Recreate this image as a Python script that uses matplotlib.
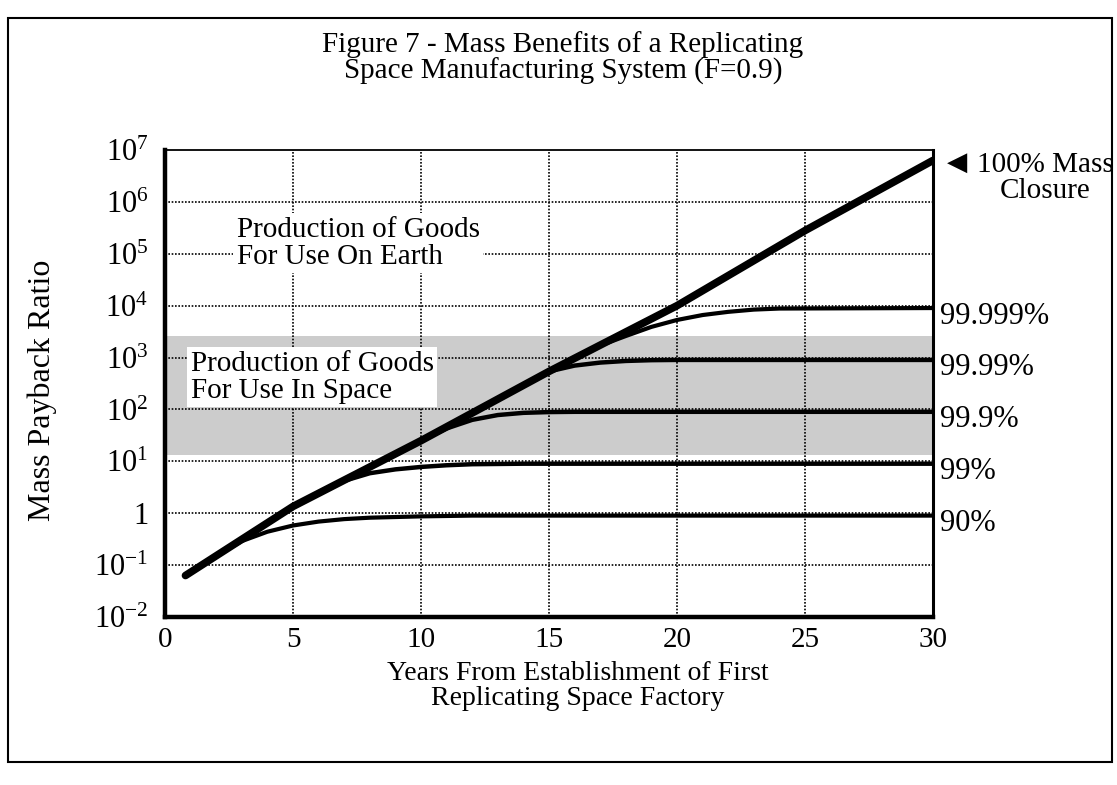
import matplotlib
matplotlib.use("Agg")
import matplotlib.pyplot as plt
from matplotlib.patches import Rectangle

# values
years_100 = [0.8, 5, 10, 15, 20, 25, 30]
closure_100 = [0.063, 1.35, 25, 540, 1.0e4, 2.8e5, 6.3e6]

years_90 = [0.8, 2, 3, 4, 5, 6, 7, 8, 10, 12, 30]
closure_90 = [0.063, 0.15, 0.29, 0.44, 0.58, 0.69, 0.77, 0.82, 0.87, 0.9, 0.9]

years_99 = [0.8, 5, 6, 7, 8, 9, 10, 11, 12, 14, 30]
closure_99 = [0.063, 1.35, 2.4, 4.2, 5.9, 7.0, 7.8, 8.4, 8.8, 9.0, 9.0]

years_999 = [0.8, 5, 10, 11, 12, 13, 14, 15, 16, 30]
closure_999 = [0.063, 1.35, 25, 43, 63, 78, 86, 89, 90, 90]

years_9999 = [0.8, 5, 10, 15, 16, 17, 18, 19, 20, 30]
closure_9999 = [0.063, 1.35, 25, 540, 700, 800, 860, 890, 900, 900]

years_99999 = [0.8, 5, 10, 15, 17, 18, 19, 20, 21, 22, 23, 24, 30]
closure_99999 = [0.063, 1.35, 25, 540, 1700, 2600, 3900, 5300, 6600, 7600, 8400, 8800, 9000]

plateau_labels = ["99.999%", "99.99%", "99.9%", "99%", "90%"]
plateau_values = [9000, 900, 90, 9.0, 0.9]

space_band = (13, 2600)

x_ticks = [0, 5, 10, 15, 20, 25, 30]
y_ticks = [1e-2, 1e-1, 1, 1e1, 1e2, 1e3, 1e4, 1e5, 1e6, 1e7]
y_tick_labels = [r"$10^{-2}$", r"$10^{-1}$", "1", r"$10^{1}$", r"$10^{2}$",
                 r"$10^{3}$", r"$10^{4}$", r"$10^{5}$", r"$10^{6}$", r"$10^{7}$"]

plt.rcParams["font.family"] = ["Liberation Serif", "DejaVu Sans"]
plt.rcParams["mathtext.fontset"] = "custom"
plt.rcParams["mathtext.rm"] = "Liberation Serif"
plt.rcParams["mathtext.it"] = "Liberation Serif"

W, H = 1117, 785
fig = plt.figure(figsize=(W / 100, H / 100), dpi=100)
ax = fig.add_axes([165 / W, 1 - 617 / H, (933 - 165) / W, (617 - 150) / H])

ax.set_yscale("log")
ax.set_xlim(0, 30)
ax.set_ylim(1e-2, 1e7)

# shaded band for goods used in space
ax.axhspan(space_band[0], space_band[1], color="#cccccc", zorder=0, lw=0)

# grid
for x in x_ticks[1:-1]:
    ax.axvline(x, color="black", ls=(0, (1, 1)), lw=1.2, zorder=1)
for y in y_ticks[1:-1]:
    ax.axhline(y, color="black", ls=(0, (1, 1)), lw=1.2, zorder=1)

curve_kw = dict(color="black", solid_capstyle="round", solid_joinstyle="round", zorder=3)
ax.plot(years_90, closure_90, lw=3.0, **curve_kw)
ax.plot(years_99, closure_99, lw=3.2, **curve_kw)
ax.plot(years_999, closure_999, lw=3.2, **curve_kw)
ax.plot(years_9999, closure_9999, lw=3.2, **curve_kw)
ax.plot(years_99999, closure_99999, lw=3.0, **curve_kw)
ax.plot(years_100, closure_100, lw=5.5, **curve_kw)

# spines
for side in ["left", "bottom"]:
    ax.spines[side].set_linewidth(3.2)
ax.spines["right"].set_linewidth(2.2)
ax.spines["top"].set_linewidth(1.3)
ax.spines["top"].set_linestyle((0, (1, 1)))

ax.set_xticks(x_ticks)
ax.set_xticklabels([str(x) for x in x_ticks], fontsize=21)
ax.set_yticks(y_ticks)
ax.set_yticklabels(y_tick_labels, fontsize=22)
ax.minorticks_off()
ax.tick_params(axis="y", length=0, pad=12)
ax.tick_params(axis="x", length=0, pad=7)

# in-plot annotations
ax.text(2.8, 1.6e5, "Production of Goods\nFor Use On Earth", fontsize=21,
        ha="left", va="center", zorder=4, linespacing=1.05,
        bbox=dict(boxstyle="square,pad=0.12", fc="white", ec="none"))
ax.text(1.0, 420, "Production of Goods\nFor Use In Space", fontsize=21,
        ha="left", va="center", zorder=4, linespacing=1.05,
        bbox=dict(boxstyle="square,pad=0.12", fc="white", ec="none"))

for lab, val in zip(plateau_labels, plateau_values):
    ax.annotate(lab, xy=(30, val), xytext=(7, -8), textcoords="offset pixels",
                fontsize=22, ha="left", va="center", annotation_clip=False)

ax.annotate("\u25C0", xy=(30, closure_100[-1]), xytext=(24, -2),
            textcoords="offset pixels", fontsize=19, ha="center", va="center",
            family="DejaVu Sans", annotation_clip=False)
ax.annotate("100% Mass\nClosure", xy=(30, closure_100[-1]), xytext=(112, -18),
            textcoords="offset pixels", fontsize=21, ha="center", va="center",
            multialignment="center", linespacing=1.0, annotation_clip=False)

# titles and axis labels
fig.text(563 / W, 1 - 58 / H,
         "Figure 7 - Mass Benefits of a Replicating\nSpace Manufacturing System (F=0.9)",
         fontsize=21, ha="center", va="center", linespacing=0.95)
fig.text(42 / W, 1 - 390 / H, "Mass Payback Ratio", fontsize=23, rotation=90,
         ha="center", va="center")
fig.text(578 / W, 1 - 686 / H,
         "Years From Establishment of First\nReplicating Space Factory",
         fontsize=20, ha="center", va="center", linespacing=1.05)

# outer frame of the scanned page
fig.add_artist(Rectangle((8 / W, 1 - 762 / H), (1112 - 8) / W, (762 - 18) / H,
                         transform=fig.transFigure, fill=False, lw=1.5, ec="black"))

fig.savefig("out.png", dpi=100, facecolor="white")
